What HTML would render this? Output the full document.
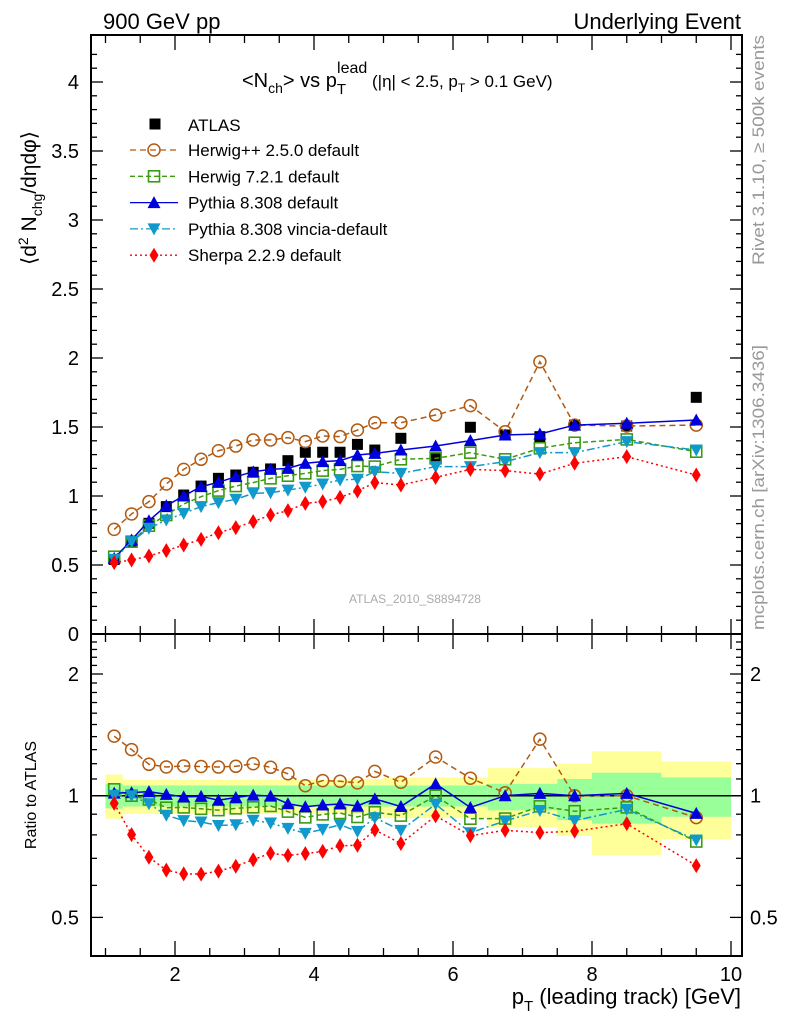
<!DOCTYPE html>
<html><head><meta charset="utf-8">
<style>
html,body{margin:0;padding:0;background:#fff;}
svg{display:block;font-family:"Liberation Sans",sans-serif;}
</style></head>
<body>
<svg id="chart" width="786" height="1024" viewBox="0 0 786 1024" xmlns="http://www.w3.org/2000/svg">
<text x="103" y="29" font-size="22">900 GeV pp</text>
<text x="741" y="29" font-size="22" text-anchor="end">Underlying Event</text>
<text x="242" y="87" font-size="20">&lt;N<tspan font-size="14" dy="6">ch</tspan><tspan dy="-6">&gt; vs p</tspan><tspan font-size="15" dy="7">T</tspan><tspan font-size="16" dx="-9" dy="-21">lead</tspan><tspan font-size="17" dy="14"> (|η| &lt; 2.5, p</tspan><tspan font-size="12" dy="5">T</tspan><tspan font-size="17" dy="-5"> &gt; 0.1 GeV)</tspan></text>
<text transform="translate(36,198) rotate(-90)" font-size="21" text-anchor="middle">⟨d<tspan font-size="14" dy="-8">2</tspan><tspan dy="8"> N</tspan><tspan font-size="14" dy="6">chg</tspan><tspan dy="-6">/dηdφ⟩</tspan></text>
<text transform="translate(36,795) rotate(-90)" font-size="16" text-anchor="middle">Ratio to ATLAS</text>
<text x="741" y="1004" font-size="22" text-anchor="end">p<tspan font-size="15" dy="7">T</tspan><tspan dy="-7"> (leading track) [GeV]</tspan></text>
<text transform="translate(764,265) rotate(-90)" font-size="16.5" fill="#999" textLength="230" lengthAdjust="spacingAndGlyphs">Rivet 3.1.10, ≥ 500k events</text>
<text transform="translate(764,630) rotate(-90)" font-size="16.5" fill="#999" textLength="285" lengthAdjust="spacingAndGlyphs">mcplots.cern.ch [arXiv:1306.3436]</text>
<text x="415" y="603" font-size="12" fill="#aaa" text-anchor="middle">ATLAS_2010_S8894728</text>
<g id="bands"></g><g id="axes"></g><g id="series"></g><g id="legend"></g>
</svg>
<script>
const xs = [1.125,1.375,1.625,1.875,2.125,2.375,2.625,2.875,3.125,3.375,3.625,3.875,4.125,4.375,4.625,4.875,5.25,5.75,6.25,6.75,7.25,7.75,8.5,9.5];
const binEdges = [1,1.25,1.5,1.75,2,2.25,2.5,2.75,3,3.25,3.5,3.75,4,4.25,4.5,4.75,5,5.5,6,6.5,7,7.5,8,9,10];
const atlas = [0.54,0.669,0.802,0.923,1.007,1.072,1.128,1.152,1.172,1.196,1.256,1.317,1.317,1.317,1.374,1.333,1.418,1.273,1.498,1.442,1.43,1.514,1.507,1.715];
const herwigpp = [0.758,0.87,0.959,1.087,1.193,1.266,1.328,1.362,1.406,1.406,1.423,1.394,1.435,1.43,1.478,1.531,1.531,1.587,1.655,1.466,1.973,1.514,1.507,1.514];
const herwig7 = [0.56,0.669,0.785,0.862,0.942,0.995,1.039,1.072,1.097,1.128,1.147,1.164,1.184,1.193,1.217,1.213,1.266,1.273,1.314,1.266,1.346,1.386,1.41,1.321];
const pythia = [0.548,0.681,0.821,0.93,1.0,1.068,1.099,1.14,1.176,1.193,1.2,1.237,1.249,1.256,1.297,1.309,1.333,1.362,1.401,1.442,1.449,1.514,1.527,1.551];
const vincia = [0.541,0.669,0.766,0.826,0.874,0.923,0.952,0.976,1.019,1.024,1.043,1.063,1.087,1.116,1.121,1.176,1.164,1.213,1.213,1.249,1.314,1.314,1.394,1.333];
const sherpa = [0.517,0.536,0.565,0.604,0.645,0.686,0.734,0.771,0.814,0.862,0.894,0.947,0.959,0.99,1.036,1.097,1.08,1.135,1.193,1.184,1.159,1.237,1.285,1.152];
const yellowHi = [1.128,1.095,1.095,1.095,1.095,1.095,1.095,1.095,1.095,1.095,1.095,1.095,1.095,1.095,1.1,1.1,1.11,1.11,1.11,1.17,1.17,1.2,1.287,1.215];
const yellowLo = [0.877,0.902,0.902,0.902,0.902,0.902,0.902,0.902,0.902,0.902,0.902,0.902,0.902,0.902,0.9,0.9,0.88,0.88,0.88,0.834,0.834,0.795,0.713,0.78];
const greenHi = [1.07,1.06,1.06,1.06,1.06,1.06,1.06,1.06,1.06,1.06,1.06,1.06,1.06,1.06,1.06,1.06,1.06,1.06,1.06,1.07,1.07,1.1,1.14,1.11];
const greenLo = [0.93,0.94,0.94,0.94,0.94,0.94,0.94,0.94,0.94,0.94,0.94,0.94,0.94,0.94,0.94,0.94,0.94,0.94,0.94,0.92,0.92,0.87,0.853,0.887];
const mainTicks = ["0","0.5","1","1.5","2","2.5","3","3.5","4"];
const ratioTicks = ["0.5","1","2"];
const xTicks = ["2","4","6","8","10"];

const NS="http://www.w3.org/2000/svg";
const X0=91,X1=742,MT=35,MB=634,RT=634,RB=956;
const xp = v => 175 + (v-2)*69.5;
const ym = v => 634 - 138*v;
const yr = r => 795.7 - 121.7*Math.log2(r);
function mk(tag, attrs, parent){const e=document.createElementNS(NS,tag);for(const k in attrs)e.setAttribute(k,attrs[k]);parent.appendChild(e);return e;}
const bands=document.getElementById('bands'),axes=document.getElementById('axes'),ser=document.getElementById('series'),leg=document.getElementById('legend');

for(let i=0;i<xs.length;i++){
  const x0=xp(binEdges[i]),x1=xp(binEdges[i+1]);
  const yb=mk('rect',{x:x0,y:yr(yellowHi[i]),width:x1-x0,height:yr(yellowLo[i])-yr(yellowHi[i]),fill:'#ffff99'},bands);
  
  
  const gb=mk('rect',{x:x0,y:yr(greenHi[i]),width:x1-x0,height:yr(greenLo[i])-yr(greenHi[i]),fill:'#99ff99'},bands);
  
  
}
const f1=mk('rect',{x:X0,y:MT,width:X1-X0,height:MB-MT,fill:'none',stroke:'#000','stroke-width':2},axes);


const f2=mk('rect',{x:X0,y:RT,width:X1-X0,height:RB-RT,fill:'none',stroke:'#000','stroke-width':2},axes);


const one=mk('line',{x1:X0,x2:X1,y1:yr(1),y2:yr(1),stroke:'#000','stroke-width':1.5},axes);


for(let v=0;v<=4.3;v+=0.1){
  const vv=Math.round(v*10)/10, major=Math.abs(vv*2-Math.round(vv*2))<1e-6, L=major?12:6, y=ym(vv);
  mk('line',{x1:X0,x2:X0+L,y1:y,y2:y,stroke:'#000','stroke-width':1.3},axes);
  mk('line',{x1:X1,x2:X1-L,y1:y,y2:y,stroke:'#000','stroke-width':1.3},axes);
}
mainTicks.forEach((t,i)=>{
  const v=parseFloat(t);
  const tl=mk('text',{x:X0-12,y:ym(v)+7,'font-size':20,'text-anchor':'end'},axes);
  
  
  tl.textContent=t;
});
for(let r=0.4;r<=2.5;r+=0.1){
  const rr=Math.round(r*10)/10, major=[0.5,1,2].some(m=>Math.abs(m-rr)<1e-6), L=major?12:6, y=yr(rr);
  if(y<RT||y>RB) continue;
  mk('line',{x1:X0,x2:X0+L,y1:y,y2:y,stroke:'#000','stroke-width':1.3},axes);
  mk('line',{x1:X1,x2:X1-L,y1:y,y2:y,stroke:'#000','stroke-width':1.3},axes);
}
ratioTicks.forEach(t=>{
  const r=parseFloat(t);
  const a=mk('text',{x:X0-12,y:yr(r)+7,'font-size':20,'text-anchor':'end'},axes);
  
  
  a.textContent=t;
  const b=mk('text',{x:X1+8,y:yr(r)+7,'font-size':20},axes);
  
  
  b.textContent=t;
});
for(let v=1;v<=10;v+=0.5){
  const major=Math.abs(v/2-Math.round(v/2))<1e-6, L=major?15:8, x=xp(v);
  [[MT,1],[MB,-1],[RT,1],[RB,-1]].forEach(([y,d])=>mk('line',{x1:x,x2:x,y1:y,y2:y+d*L,stroke:'#000','stroke-width':1.3},axes));
}
xTicks.forEach(t=>{
  const tl=mk('text',{x:xp(parseFloat(t)),y:981,'font-size':20,'text-anchor':'middle'},axes);
  
  
  tl.textContent=t;
});

function marker(type,x,y,color,g){
  const s=5.5;
  if(type==='square') return mk('rect',{x:x-s,y:y-s,width:2*s,height:2*s,fill:'#000'},g);
  if(type==='circle') return mk('circle',{cx:x,cy:y,r:s+0.5,fill:'none',stroke:color,'stroke-width':1.5},g);
  if(type==='osquare') return mk('rect',{x:x-s,y:y-s,width:2*s,height:2*s,fill:'none',stroke:color,'stroke-width':1.6},g);
  if(type==='tri') return mk('polygon',{points:`${x},${y-s-1} ${x-s-1},${y+s} ${x+s+1},${y+s}`,fill:color},g);
  if(type==='dtri') return mk('polygon',{points:`${x},${y+s+1} ${x-s-1},${y-s} ${x+s+1},${y-s}`,fill:color},g);
  if(type==='diam') return mk('polygon',{points:`${x},${y-s-2} ${x-s+1},${y} ${x},${y+s+2} ${x+s-1},${y}`,fill:color},g);
}
const series=[
 {name:'herwigpp',label:'Herwig++ 2.5.0 default',vals:herwigpp,color:'#b35a10',type:'circle',dash:'6,4'},
 {name:'herwig7',label:'Herwig 7.2.1 default',vals:herwig7,color:'#3c9a12',type:'osquare',dash:'5,3'},
 {name:'pythia',label:'Pythia 8.308 default',vals:pythia,color:'#0000dd',type:'tri',dash:''},
 {name:'vincia',label:'Pythia 8.308 vincia-default',vals:vincia,color:'#1199cc',type:'dtri',dash:'8,3,2,3'},
 {name:'sherpa',label:'Sherpa 2.2.9 default',vals:sherpa,color:'#ff0000',type:'diam',dash:'2,3'},
];
const ga=mk('g',{},ser);


atlas.forEach((v,i)=>{const m=marker('square',xp(xs[i]),ym(v),'#000',ga);
  
  });
series.forEach(s=>{
  const g=mk('g',{},ser);
  
  
  const pm=s.vals.map((v,i)=>xp(xs[i])+','+ym(v)).join(' ');
  mk('polyline',{points:pm,fill:'none',stroke:s.color,'stroke-width':1.5,'stroke-dasharray':s.dash},g);
  const pr=s.vals.map((v,i)=>xp(xs[i])+','+yr(v/atlas[i])).join(' ');
  mk('polyline',{points:pr,fill:'none',stroke:s.color,'stroke-width':1.5,'stroke-dasharray':s.dash},g);
  s.vals.forEach((v,i)=>{
    const m1=marker(s.type,xp(xs[i]),ym(v),s.color,g);
    
    
    const m2=marker(s.type,xp(xs[i]),yr(v/atlas[i]),s.color,g);
    
    
  });
});
const lg0=130;
const lm=marker('square',155,124,'#000',leg);


const lt=mk('text',{x:188,y:131,'font-size':17},leg);


lt.textContent='ATLAS';
series.forEach((s,i)=>{
  const y=150+i*26.3;
  mk('line',{x1:lg0,x2:178,y1:y,y2:y,stroke:s.color,'stroke-width':1.3,'stroke-dasharray':s.dash},leg);
  const m=marker(s.type,154,y,s.color,leg);
  
  
  const t=mk('text',{x:188,y:y+6,'font-size':17},leg);
  
  
  t.textContent=s.label;
});
</script>
</body></html>
